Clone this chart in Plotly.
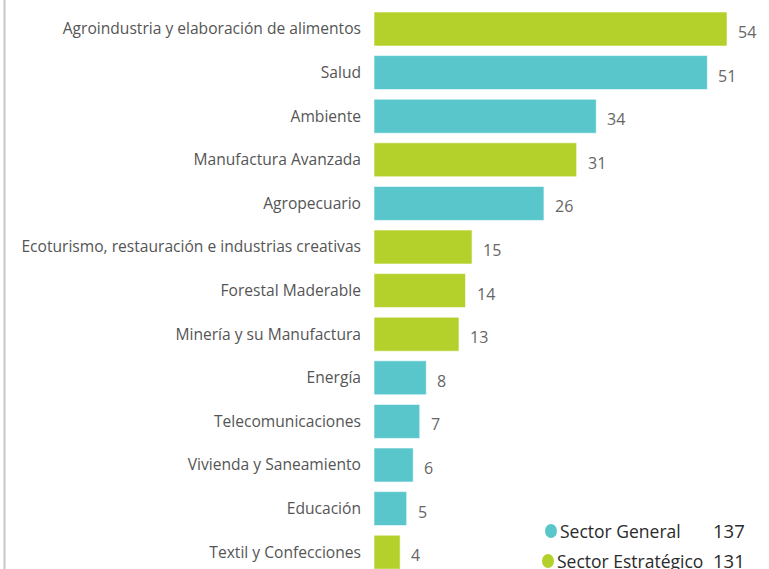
import plotly.graph_objects as go

categories = [
    "Agroindustria y elaboración de alimentos",
    "Salud",
    "Ambiente",
    "Manufactura Avanzada",
    "Agropecuario",
    "Ecoturismo, restauración e industrias creativas",
    "Forestal Maderable",
    "Minería y su Manufactura",
    "Energía",
    "Telecomunicaciones",
    "Vivienda y Saneamiento",
    "Educación",
    "Textil y Confecciones",
]
values = [54, 51, 34, 31, 26, 15, 14, 13, 8, 7, 6, 5, 4]
sector = ["E", "G", "G", "E", "G", "E", "E", "E", "G", "G", "G", "G", "E"]
series_names = {"G": "Sector General", "E": "Sector Estratégico"}
colors = {"G": "#58C6CB", "E": "#B3D12A"}

FONT = "Open Sans, Noto Sans, sans-serif"

W, H = 769, 569
L = 374


def px2x(x):
    return (x - L) / (W - L)


def py2y(y):
    return 1 - y / H


fig = go.Figure()
fig.add_trace(go.Bar(
    y=categories,
    x=values,
    orientation="h",
    marker=dict(color=[colors[s] for s in sector],
                line=dict(color="rgba(255,255,255,0.6)", width=1)),
    width=0.78,
    hoverinfo="x+y",
    showlegend=False,
))

annotations = []
for c, v in zip(categories, values):
    annotations.append(dict(
        x=v, y=c, xref="x", yref="y", text=str(v), showarrow=False,
        xanchor="left", yanchor="middle", xshift=9, yshift=-3,
        font=dict(family=FONT, size=16, color="#666666"),
    ))

# legend with totals
legend_rows = [("G", 531, 551), ("E", 561, 548)]
shapes = []
for key, ypx, cx in legend_rows:
    total = sum(v for v, s in zip(values, sector) if s == key)
    annotations.append(dict(
        x=px2x(cx + 7), y=py2y(ypx), xref="paper", yref="paper",
        text=series_names[key],
        showarrow=False, xanchor="left", yanchor="middle",
        font=dict(family=FONT, size=17.5, color="#2A2A2A"),
    ))
    annotations.append(dict(
        x=px2x(747), y=py2y(ypx - 1), xref="paper", yref="paper",
        text=str(total),
        showarrow=False, xanchor="right", yanchor="middle",
        font=dict(family=FONT, size=18.5, color="#2A2A2A"),
    ))
    shapes.append(dict(
        type="circle", xref="paper", yref="paper",
        x0=px2x(cx - 6), x1=px2x(cx + 6),
        y0=py2y(ypx + 7), y1=py2y(ypx - 7),
        fillcolor=colors[key], line=dict(width=0),
    ))

# left border line
shapes.append(dict(
    type="line", xref="paper", yref="paper",
    x0=px2x(4.5), x1=px2x(4.5), y0=0, y1=1,
    line=dict(color="#C8C8C8", width=2),
))

fig.update_layout(
    annotations=annotations,
    shapes=shapes,
    width=W, height=H,
    margin=dict(l=L, r=0, t=0, b=0),
    paper_bgcolor="white", plot_bgcolor="white",
    xaxis=dict(range=[0, (W - L) / 6.537], visible=False, fixedrange=True),
    yaxis=dict(
        categoryorder="array", categoryarray=categories,
        range=[12.385, -0.665],
        showgrid=False, zeroline=False, showline=False,
        ticks="", ticklabelstandoff=12,
        tickfont=dict(family=FONT, size=15.6, color="#555555"),
    ),
    showlegend=False,
)

fig.write_html(
    "out.html",
    config={"displayModeBar": False},
    post_script="document.body.style.margin='0px';",
)
